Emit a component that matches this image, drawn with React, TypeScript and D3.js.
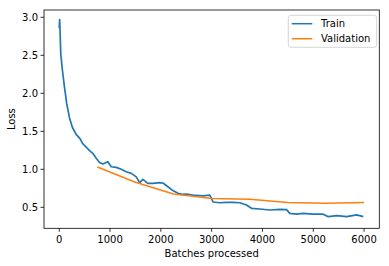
import React from "react";
import * as d3 from "d3";

const trainBatches = [0, 8, 16, 30, 63, 103, 148, 201, 260, 333, 412, 458, 520, 596, 661, 728, 793, 858, 956, 1023, 1122, 1221, 1319, 1418, 1516, 1582, 1647, 1745, 1844, 1976, 2041, 2140, 2238, 2337, 2420, 2502, 2633, 2765, 2830, 2962, 2995, 3027, 3159, 3291, 3421, 3554, 3686, 3784, 3948, 4145, 4342, 4474, 4538, 4670, 4802, 4999, 5196, 5295, 5460, 5658, 5855, 5985];
const trainLoss = [2.86, 2.97, 2.82, 2.52, 2.30, 2.08, 1.86, 1.68, 1.55, 1.46, 1.40, 1.34, 1.30, 1.245, 1.21, 1.145, 1.09, 1.07, 1.10, 1.034, 1.026, 1.00, 0.968, 0.946, 0.90, 0.824, 0.868, 0.816, 0.816, 0.824, 0.82, 0.77, 0.72, 0.684, 0.67, 0.675, 0.66, 0.655, 0.65, 0.66, 0.62, 0.57, 0.56, 0.565, 0.565, 0.56, 0.53, 0.487, 0.478, 0.465, 0.474, 0.47, 0.42, 0.41, 0.42, 0.41, 0.41, 0.377, 0.39, 0.377, 0.40, 0.377];

const valBatches = [750, 1500, 2250, 3000, 3750, 4500, 5250, 6000];
const valLoss = [1.03, 0.83, 0.675, 0.615, 0.605, 0.565, 0.553, 0.565];

const xTicks = [0, 1000, 2000, 3000, 4000, 5000, 6000];
const yTicks = [0.5, 1.0, 1.5, 2.0, 2.5, 3.0];

const W = 389;
const H = 266;
const L = 44;
const R = 379.3;
const T = 10;
const B = 228.3;
const FONT = "DejaVu Sans, sans-serif";

export default function App() {
  const x = d3.scaleLinear().domain([-300, 6300]).range([L, R]);
  const y = d3.scaleLinear().domain([0.224, 3.096]).range([B, T]);
  const line = d3
    .line<[number, number]>()
    .x((d) => x(d[0]))
    .y((d) => y(d[1]));
  const trainPts = trainBatches.map((b, i) => [b, trainLoss[i]] as [number, number]);
  const valPts = valBatches.map((b, i) => [b, valLoss[i]] as [number, number]);
  return (
    <svg
      width={W}
      height={H}
      style={{ position: "absolute", left: 0, top: 0, background: "#fff" }}
      fontFamily={FONT}
    >
      <rect x={0} y={0} width={W} height={H} fill="#fff" />
      <path d={line(trainPts) || ""} fill="none" stroke="#1f77b4" strokeWidth={1.7} strokeLinejoin="round" />
      <path d={line(valPts) || ""} fill="none" stroke="#ff7f0e" strokeWidth={1.5} strokeLinejoin="round" />
      <rect x={L} y={T} width={R - L} height={B - T} fill="none" stroke="#000" strokeWidth={0.8} />
      {xTicks.map((t) => (
        <g key={"x" + t}>
          <line x1={x(t)} x2={x(t)} y1={B} y2={B + 3.5} stroke="#000" strokeWidth={0.8} />
          <text x={x(t)} y={B + 14.5} fontSize={10} textAnchor="middle" fill="#000">
            {t}
          </text>
        </g>
      ))}
      {yTicks.map((t) => (
        <g key={"y" + t}>
          <line x1={L - 3.5} x2={L} y1={y(t)} y2={y(t)} stroke="#000" strokeWidth={0.8} />
          <text x={L - 6} y={y(t) + 3.6} fontSize={10} textAnchor="end" fill="#000">
            {t.toFixed(1)}
          </text>
        </g>
      ))}
      <text x={(L + R) / 2} y={256.5} fontSize={10} textAnchor="middle" fill="#000">
        Batches processed
      </text>
      <text
        transform={`translate(15,${(T + B) / 2}) rotate(-90)`}
        fontSize={10}
        textAnchor="middle"
        fill="#000"
      >
        Loss
      </text>
      <g>
        <rect x={288.3} y={15.3} width={88.4} height={32} rx={2.5} fill="#fff" fillOpacity={0.8} stroke="#cccccc" strokeWidth={0.8} />
        <line x1={291.7} x2={312.3} y1={23.7} y2={23.7} stroke="#1f77b4" strokeWidth={1.5} />
        <text x={321} y={27.3} fontSize={10} fill="#000">Train</text>
        <line x1={291.7} x2={312.3} y1={38.7} y2={38.7} stroke="#ff7f0e" strokeWidth={1.5} />
        <text x={321} y={42.3} fontSize={10} fill="#000">Validation</text>
      </g>
    </svg>
  );
}
